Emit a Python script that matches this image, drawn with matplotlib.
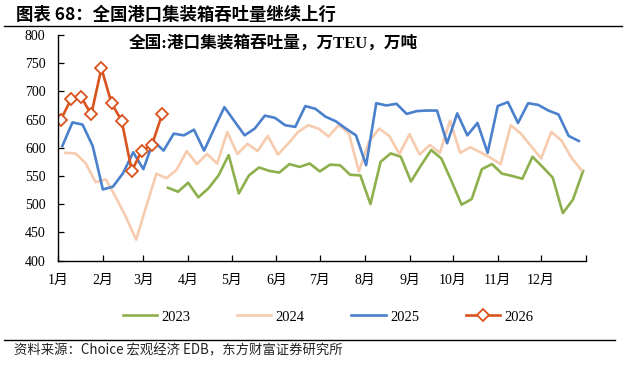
import matplotlib
matplotlib.use('Agg')
import matplotlib.pyplot as plt
from matplotlib.lines import Line2D
import datetime as dt

# ---------------- data ----------------
months = ['1月', '2月', '3月', '4月', '5月', '6月', '7月', '8月', '9月', '10月', '11月', '12月']
series_names = ['2023', '2024', '2025', '2026']

start_2023 = '2023-03-18'
v2023 = [529, 522, 538, 512, 528, 551, 587, 519, 551, 565, 559, 556, 571, 566, 572, 558,
         570, 569, 552, 551, 500, 575, 590, 584, 540, 569, 596, 581, 541, 499, 509, 562,
         571, 554, 550, 545, 584, 566, 547, 484, 508, 559]

start_2024 = '2024-01-06'
v2024 = [591, 590, 573, 539, 544, 512, 477, 437, 496, 554, 546, 561, 594, 571, 589, 572,
         628, 589, 607, 594, 621, 588, 607, 628, 640, 634, 620, 640, 626, 558, 611, 634,
         621, 589, 624, 588, 605, 591, 648, 591, 601, 592, 582, 571, 640, 625, 603, 581,
         628, 613, 582, 560]

start_2025 = '2025-01-04'
v2025 = [603, 645, 641, 603, 526, 531, 555, 592, 562, 612, 595, 625, 622, 632, 595, 634,
         672, 647, 622, 634, 657, 653, 640, 637, 674, 669, 655, 647, 634, 622, 569, 679,
         675, 678, 660, 665, 666, 666, 608, 661, 622, 644, 591, 674, 681, 644, 679, 676,
         666, 659, 621, 612]

start_2026 = '2026-01-03'
v2026 = [650, 686, 690, 659, 741, 679, 648, 559, 595, 605, 660]

y_ticks = [400, 450, 500, 550, 600, 650, 700, 750, 800]


def day_positions(start, n):
    d0 = dt.date.fromisoformat(start)
    jan1 = dt.date(d0.year, 1, 1)
    return [(d0 + dt.timedelta(days=7 * k) - jan1).days for k in range(n)]


month_starts = [(dt.date(2023, m, 1) - dt.date(2023, 1, 1)).days for m in range(1, 13)] + [365]

# ---------------- figure ----------------
W, H = 642, 367
fig = plt.figure(figsize=(W / 100, H / 100), dpi=100)
fig.patch.set_facecolor('white')

ax = fig.add_axes([58 / W, 1 - 260.5 / H, (586 - 58) / W, (260.5 - 35) / H])

serif_cjk = ['Liberation Serif', 'Noto Sans CJK SC']
cjk = ['Noto Sans CJK SC', 'DejaVu Sans']

c2023 = '#8DB04C'
c2024 = '#F7CBAE'
c2025 = '#4A80CC'
c2026 = '#D9531E'

ax.plot(day_positions(start_2023, len(v2023)), v2023, color=c2023, lw=1.9,
        label=series_names[0])
ax.plot(day_positions(start_2024, len(v2024)), v2024, color=c2024, lw=1.9,
        label=series_names[1])
ax.plot(day_positions(start_2025, len(v2025)), v2025, color=c2025, lw=1.9,
        label=series_names[2])
ax.plot(day_positions(start_2026, len(v2026)), v2026, color=c2026, lw=1.9,
        marker='D', markersize=6, markerfacecolor='white', markeredgecolor=c2026,
        markeredgewidth=1.3, label=series_names[3])

ax.set_xlim(0, 365)
ax.set_ylim(400, 800)
ax.set_yticks(y_ticks)
ax.set_xticks(month_starts)
ax.set_xticklabels(months + [''])

for s in ['top', 'right']:
    ax.spines[s].set_visible(False)
for s in ['left', 'bottom']:
    ax.spines[s].set_color('black')
    ax.spines[s].set_linewidth(1.0)

ax.tick_params(axis='both', direction='in', length=4, width=0.9, color='black')
ax.tick_params(axis='y', pad=9)
ax.tick_params(axis='x', pad=9.5)
for lab in ax.get_yticklabels():
    lab.set_fontfamily(serif_cjk)
    lab.set_fontsize(10)
for lab in ax.get_xticklabels():
    lab.set_fontfamily(serif_cjk)
    lab.set_fontsize(10)

# in-plot annotation
fig.text(129 / W, 1 - 43.5 / H, '全国:港口集装箱吞吐量，万TEU，万吨', fontsize=12,
         fontweight='bold', family=serif_cjk, ha='left', va='center')

# title
fig.text(16 / W, 1 - 14.5 / H, '图表 68：全国港口集装箱吞吐量继续上行', fontsize=12.5,
         fontweight='bold', family=cjk, ha='left', va='center')
fig.add_artist(Line2D([4 / W, 622 / W], [1 - 25.5 / H, 1 - 25.5 / H], color='black', lw=1.0,
                      transform=fig.transFigure))

# legend
leg = fig.legend(loc='center', bbox_to_anchor=(328 / W, 1 - 317 / H), ncol=4, frameon=False,
                 handlelength=2.35, handletextpad=0.3, columnspacing=3.2,
                 prop={'family': serif_cjk, 'size': 10.5})

# bottom rule and source
fig.add_artist(Line2D([4 / W, 615 / W], [1 - 340 / H, 1 - 340 / H], color='black', lw=1.0,
                      transform=fig.transFigure))
fig.text(14 / W, 1 - 350.5 / H, '资料来源：Choice 宏观经济 EDB，东方财富证券研究所', fontsize=9.6,
         family=cjk, ha='left', va='center', color='#222222')

fig.savefig('out.png', dpi=100, facecolor='white')
